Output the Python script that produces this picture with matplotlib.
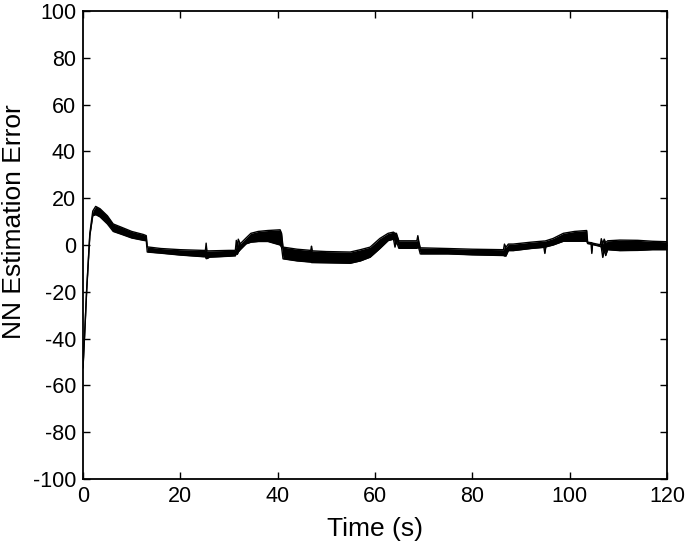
import numpy as np
import matplotlib
matplotlib.use("Agg")
import matplotlib.pyplot as plt

plt.rcParams['font.family'] = ['Liberation Sans', 'DejaVu Sans']
plt.rcParams['axes.unicode_minus'] = False

# time (s) and the upper / lower envelope of the oscillating error band
time = [0, 0.4, 0.75, 1.4, 2.0, 2.6, 3.5, 5, 6.2, 8, 10, 12.4, 13.0, 13.2, 16, 20,
        24.7, 25.15, 25.3, 25.45, 26, 30, 31.3, 31.5, 31.7, 31.9, 32.3, 33.5, 34.5, 36,
        38, 40.5, 40.8, 41.1, 44, 46.8, 46.95, 47.1, 50, 54.9, 57, 59, 61, 62.7, 63.8,
        64.1, 64.4, 64.9, 68.6, 68.8, 69.0, 69.3, 75, 80, 86.4, 86.6, 86.9, 87.4,
        88.4, 92, 94.7, 94.9, 95.1, 96.6, 98.7, 101, 103.5, 103.7, 104.4, 104.55, 104.7,
        106.3, 106.5, 106.8, 107.1, 107.4, 107.8, 110.3, 114, 117, 120]
upper = [-52, -35, -19, 5, 14.5, 16.5, 15.5, 12.5, 9, 7.5, 5.8, 4.5, 4, -0.8, -1.5, -2,
         -2.3, -2.3, 0.8, -2.5, -2.5, -2.3, -2.3, 2, -1, 2.5, 0.5, 3, 5, 5.8,
         6.2, 6.5, 5, -0.9, -1.8, -2.3, -0.5, -2.5, -2.8, -3, -2, -0.9, 2.8, 5, 5.5,
         5, 5, 1.8, 1.8, 4, 1.5, -1.2, -1.5, -1.8, -2, 0.4, -1, 0.4,
         0.4, 1.2, 1.7, 1.7, 1.8, 2.8, 5, 5.8, 6.2, 1.2, 1.0, 1.0, 0.8,
         0.1, 2.7, 0.5, 2.5, 1, 1.8, 2.1, 2, 1.6, 1.4]
lower = [-52.5, -35.5, -19.5, 4, 12.5, 13, 12, 9, 5.8, 4.5, 3, 2, 1.8, -3, -3.5, -4.3,
         -5, -5, -5.8, -5.8, -5.2, -4.8, -4.6, -3.5, -4, -3, -2, 0.5, 1.2, 1.5,
         1.5, 0, -1, -5.9, -6.8, -7.3, -7.5, -7.5, -7.6, -7.8, -6.8, -5.2, -1.5, 1.9, 2.5,
         -0.9, 1.5, -1.4, -1.4, -1, -1.4, -3.8, -3.8, -4.2, -4.5, -4.7, -4.7, -2.4,
         -2.4, -1.5, -1, -3.6, -0.8, 0, 1.6, 1.6, 1.6, 0.6, 0.4, -3.6, 0.2,
         -0.6, -1, -5.3, -2, -4.5, -2, -2.4, -2.3, -2, -2]

fig = plt.figure(figsize=(6.85, 5.48), dpi=100)
ax = fig.add_axes([0.1212, 0.1259, 0.8525, 0.854])

ax.fill_between(time, lower, upper, color='black', linewidth=0)
ax.plot(time, upper, color='black', linewidth=1.0)
ax.plot(time, lower, color='black', linewidth=1.0)

ax.set_xlim(0, 120)
ax.set_ylim(-100, 100)
ax.set_xticks(np.arange(0, 121, 20))
ax.set_yticks(np.arange(-100, 101, 20))
ax.tick_params(direction='in', length=5, width=1, top=True, right=True,
               labelsize=15.5, pad=5)
for s in ax.spines.values():
    s.set_linewidth(1.3)

ax.set_xlabel("Time (s)", fontsize=19, labelpad=7)
ax.set_ylabel("NN Estimation Error", fontsize=19, labelpad=6)
ax.yaxis.set_label_coords(-0.098, 0.55)

fig.savefig("out.png", dpi=100)
